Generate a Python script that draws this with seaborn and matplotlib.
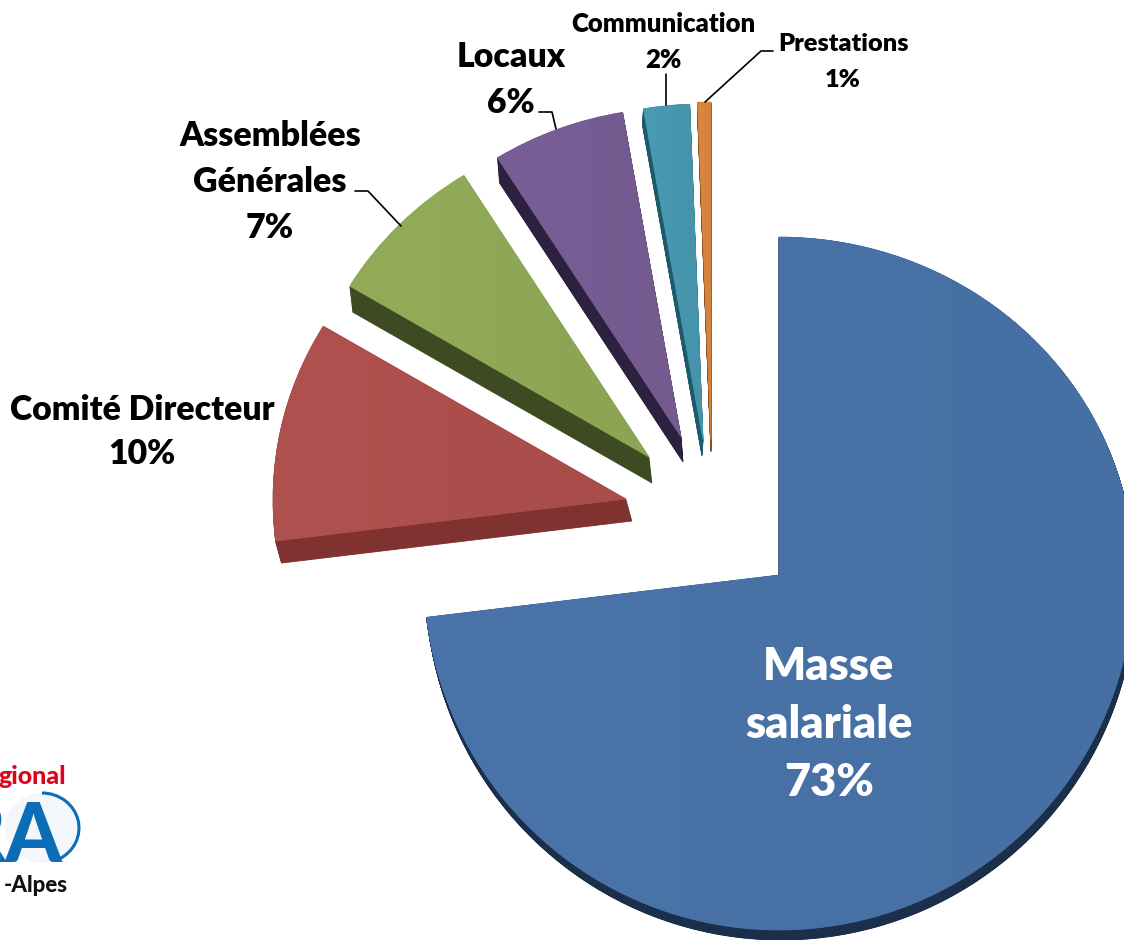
import numpy as np
import matplotlib
matplotlib.use("Agg")
import matplotlib.pyplot as plt
from matplotlib.patches import PathPatch, Arc, Ellipse
from matplotlib.path import Path
import seaborn as sns

# Data (shares, labels are the printed ones)
categories = ['Masse\nsalariale', 'Comité Directeur', 'Assemblées\nGénérales', 'Locaux', 'Communication', 'Prestations']
shares = [73.1, 10.5, 7.5, 6.2, 2.1, 0.6]
percent_labels = ['73%', '10%', '7%', '6%', '2%', '1%']

# Style
top_colors = ['#4872A6', '#AC4F4C', '#8EA857', '#765C92', '#4797AF', '#D6853F']
side_colors = ['#1B2F4A', '#803230', '#3E4A22', '#2C2240', '#1E5A6C', '#8A5222']
centers = [(779, 575), (626, 499), (649, 457), (681, 437), (703, 440), (711, 440)]
radii = [355, 353, 349, 346, 353, 355]
depths = [(2, 10), (6, 22), (3, 26), (2, 25), (-1, 16), (0, 12)]
label_xy = [(829, 724), (142, 432), (270, 182), (511, 80), (663, 42), (843, 62)]
label_size = [32.5, 24.3, 24.5, 24.3, 18.5, 18.3]
label_space = [1.5, 1.5, 1.52, 1.52, 1.65, 1.74]
label_color = ['white', 'black', 'black', 'black', 'black', 'black']
leaders = [
    [(355, 191), (368, 191), (401, 226)],
    [(539, 112), (552, 112), (556, 129)],
    [(666, 74), (666, 105)],
    [(773, 51), (761, 51), (705, 102)],
]
y_squash = 0.952  # the far half of the tilted pie looks flatter

sns.set_theme(style="white")
plt.rcParams['font.family'] = ['Lato', 'DejaVu Sans']

fig = plt.figure(figsize=(11.24, 9.4), dpi=100)
ax = fig.add_axes([0, 0, 1, 1])

# the pie works out the angles, y axis runs downward like the picture
wedges, _ = ax.pie(shares, colors=sns.color_palette(top_colors), startangle=-90,
                   counterclock=True, radius=1)

for wedge, center, r, depth, top, side in zip(wedges, centers, radii, depths, top_colors, side_colors):
    wedge.set_center((0, 0))
    wedge.set_radius(r)
    path = wedge.get_path()
    verts = path.vertices.copy()
    verts[verts[:, 1] < 0, 1] *= y_squash
    verts += center
    wedge.remove()

    # side wall: stack of shifted copies, deepest first
    for t in np.linspace(1, 0.03, 30):
        ax.add_patch(PathPatch(Path(verts + np.array(depth) * t, path.codes), fc=side, ec=side, lw=0.6, zorder=2))

    # top face with a faint left to right shading
    patch = PathPatch(Path(verts, path.codes), fc=top, ec=top, lw=0.5, zorder=3)
    ax.add_patch(patch)
    base = np.array(matplotlib.colors.to_rgb(top))
    shade = np.array([[np.clip(base * 1.015, 0, 1), base * 0.985]])
    x0, y0 = verts.min(axis=0)
    x1, y1 = verts.max(axis=0)
    im = ax.imshow(shade, extent=(x0, x1, y1, y0), aspect='auto', interpolation='bilinear', zorder=3)
    im.set_clip_path(patch)

for cat, pct, xy, size, space, color in zip(categories, percent_labels, label_xy, label_size, label_space, label_color):
    ax.text(xy[0], xy[1], cat + '\n' + pct, ha='center', va='center', fontsize=size, fontweight='heavy',
            color=color, linespacing=space, zorder=5)

for line in leaders:
    xs, ys = zip(*line)
    ax.plot(xs, ys, color='black', lw=1.2, zorder=4)

# logo, cut off by the left edge of the picture
ax.add_patch(Ellipse((42, 828), 74, 70, fc='#F3F7FC', ec='none', zorder=3))
ax.text(66, 784, 'gional', ha='right', va='baseline', fontsize=18, fontweight='black', color='#E2001A', zorder=5)
ax.add_patch(Arc((42, 828), 74, 70, theta1=-90, theta2=62, color='#0B6DB6', lw=2.2, zorder=4))
ax.text(63, 862, 'RA', ha='right', va='baseline', fontsize=58, fontweight='black', color='#0B6DB6', zorder=5)
ax.text(68, 892, '-Alpes', ha='right', va='baseline', fontsize=16, fontweight='black', color='#111111', zorder=5)

ax.set_xlim(0, 1124)
ax.set_ylim(940, 0)
ax.set_aspect('auto')
ax.axis('off')

fig.savefig('out.png', dpi=100, facecolor='white')
